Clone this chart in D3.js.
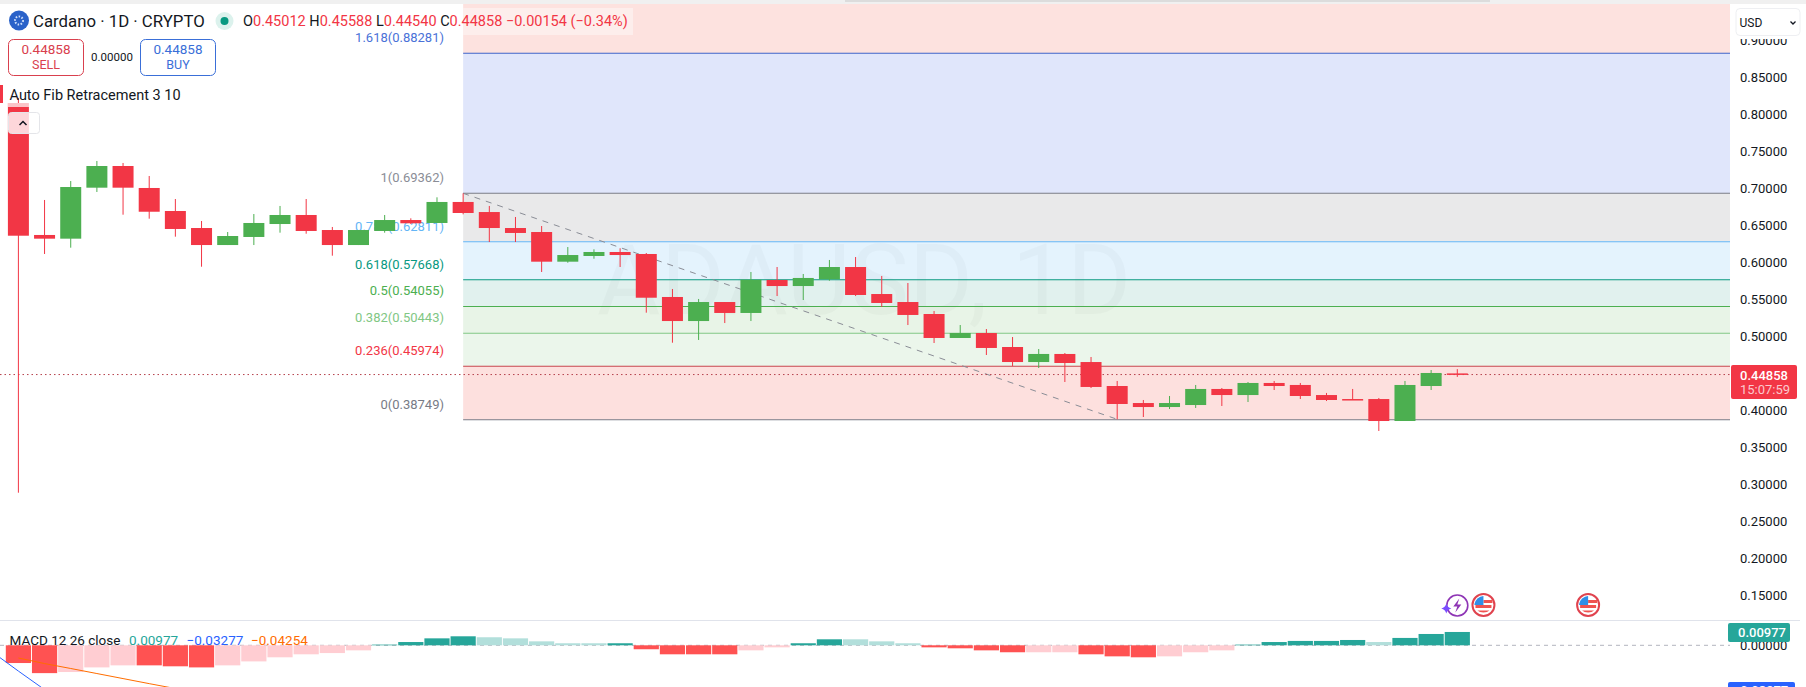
<!DOCTYPE html>
<html>
<head>
<meta charset="utf-8">
<script src="https://cdn.jsdelivr.net/npm/d3@7"></script>
<style>
html, body { margin: 0; padding: 0; background: #fff; overflow: hidden; }
svg { display: block; }
text { font-family: Roboto, sans-serif; }
</style>
</head>
<body>
<script>
// candles, one entry per day
var opens = [.8155,.6372,.6322,.7011,.7304,.7007,.6696,.6466,.6236,.6345,.6520,.6642,.6439,.6236,.6426,.6574,.6534,.6818,.6682,.6466,.6412,.6011,.6088,.6142,.6115,.5534,.5209,.5466,.5318,.5764,.5682,.5773,.5939,.5574,.5466,.5304,.4980,.5047,.4858,.4655,.4764,.4655,.4331,.4101,.4047,.4074,.4291,.4209,.4372,.4345,.4209,.4155,.4155,.3858,.4331,.45012];
var highs = [.8223,.6845,.7101,.7372,.7345,.7169,.6858,.6561,.6412,.6655,.6764,.6858,.6480,.6439,.6642,.6597,.6881,.6935,.6764,.6615,.6493,.6209,.6178,.6192,.6128,.5642,.5507,.5466,.5872,.5939,.5845,.6034,.6074,.5818,.5723,.5345,.5155,.5101,.4993,.4831,.4777,.4723,.4399,.4142,.4196,.4345,.4304,.4385,.4399,.4372,.4237,.4291,.4169,.4399,.4547,.45588];
var lows = [.2889,.6115,.6200,.6953,.6646,.6592,.6349,.5943,.6236,.6236,.6403,.6389,.6092,.6236,.6403,.6520,.6534,.6651,.6277,.6277,.5872,.5997,.6051,.5939,.5322,.4916,.4953,.5182,.5209,.5547,.5493,.5754,.5547,.5399,.5155,.4912,.4980,.4750,.4601,.4574,.4385,.4304,.3881,.3912,.4020,.4034,.4061,.4115,.4277,.4155,.4128,.4142,.3723,.3858,.4277,.4454];
var closes = [.6362,.6322,.7020,.7304,.7011,.6686,.6453,.6236,.6358,.6534,.6642,.6426,.6236,.6439,.6574,.6530,.6818,.6669,.6466,.6399,.6011,.6101,.6142,.6101,.5524,.5209,.5466,.5318,.5768,.5682,.5791,.5939,.5561,.5453,.5291,.4980,.5047,.4845,.4655,.4764,.4642,.4318,.4088,.4047,.4101,.4291,.4209,.4372,.4331,.4196,.4142,.4142,.3858,.4345,.4507,.44858];

// auto fib levels, top to bottom
var fibNames = ["1.618", "1", "0.786", "0.618", "0.5", "0.382", "0.236", "0"];
var fibPrices = [0.88281, 0.69362, 0.62811, 0.57668, 0.54055, 0.50443, 0.45974, 0.38749];
var fibColors = ["#3f63c8", "#787b86", "#64b5f6", "#089981", "#4caf50", "#81c784", "#c8444c", "#787b86"];
var fibTextColors = ["#4a72d8", "#8a8d96", "#64b5f6", "#089981", "#4caf50", "#81c784", "#f23645", "#787b86"];
var fibFills = ["#e0e6fb", "#e9e9ea", "#e4f3fd", "#e1f1ee", "#e8f4e7", "#ebf6eb", "#fde0de"];

var priceTicks = [0.15, 0.20, 0.25, 0.30, 0.35, 0.40, 0.45, 0.50, 0.55, 0.60, 0.65, 0.70, 0.75, 0.80, 0.85, 0.90];
var hiddenTicks = [0.45];

// macd histogram, and whether the bar is falling in strength (pale colour)
var histValues = [-.0130,-.0204,-.0196,-.0162,-.0147,-.0147,-.0154,-.0162,-.0147,-.0118,-.0088,-.0066,-.0057,-.0037,.0005,.0024,.0051,.0066,.0059,.0051,.0029,.0015,.0015,.0015,-.0029,-.0066,-.0066,-.0066,-.0037,-.0015,.0015,.0044,.0044,.0029,.0015,-.0015,-.0022,-.0037,-.0051,-.0051,-.0051,-.0066,-.0081,-.0088,-.0081,-.0051,-.0037,.0005,.0024,.0032,.0032,.0039,.0024,.0054,.0083,.00977];
var histPale = [0,0,1,1,1,0,0,0,1,1,1,1,1,1,0,0,0,0,1,1,1,1,1,0,0,0,0,0,1,1,0,0,1,1,1,0,0,0,0,1,1,0,0,0,1,1,1,0,0,0,0,0,1,0,0,0];
// only the first days of these lines are still inside the pane
var macdValues = [-.0049,-.0189,-.0325];
var signalValues = [-.0093,-.0134,-.0170,-.0207,-.0244,-.0281,-.0317];

var width = 1806, height = 687, axisLeft = 1730;
var red = "#f23645", green = "#4caf50", blue = "#2962ff", teal = "#26a69a";

var x = d3.scaleLinear().domain([0, 55]).range([18.4, 1457.3]);
var y = d3.scaleLinear().domain([0.70, 0.15]).range([188.5, 595.5]);
var yMacd = d3.scaleLinear().domain([0, -0.03277]).range([645.3, 690]);

var fmt = d3.format(".5f");

var svg = d3.select("body").append("svg").attr("width", width).attr("height", height);

svg.append("rect").attr("width", width).attr("height", height).attr("fill", "#fff");

// fib bands
var fibLeft = x(17);
svg.append("rect").attr("x", fibLeft).attr("y", 4).attr("width", axisLeft - fibLeft).attr("height", y(fibPrices[0]) - 4).attr("fill", "#fde2df");
svg.selectAll(".band").data(fibFills).enter().append("rect")
  .attr("x", fibLeft)
  .attr("y", function(d, i) { return y(fibPrices[i]); })
  .attr("width", axisLeft - fibLeft)
  .attr("height", function(d, i) { return y(fibPrices[i + 1]) - y(fibPrices[i]); })
  .attr("fill", function(d) { return d; });

// watermark
svg.append("text").attr("x", 864).attr("y", 314).attr("text-anchor", "middle")
  .attr("font-size", 98).attr("fill", "#000").attr("fill-opacity", 0.025).text("ADAUSD, 1D");
svg.append("text").attr("x", 862).attr("y", 368).attr("text-anchor", "middle")
  .attr("font-size", 36).attr("fill", "#000").attr("fill-opacity", 0.025).text("Cardano");

svg.selectAll(".fibline").data(fibPrices).enter().append("line")
  .attr("x1", fibLeft).attr("x2", axisLeft)
  .attr("y1", function(d) { return y(d); }).attr("y2", function(d) { return y(d); })
  .attr("stroke", function(d, i) { return fibColors[i]; }).attr("stroke-width", 1.1);

svg.selectAll(".fiblabel").data(fibPrices).enter().append("text")
  .attr("x", 444)
  .attr("y", function(d) { return y(d) - 11; })
  .attr("text-anchor", "end").attr("font-size", 13)
  .attr("fill", function(d, i) { return fibTextColors[i]; })
  .text(function(d, i) { return fibNames[i] + "(" + fmt(d) + ")"; });

// diagonal between the two fib anchors
svg.append("line")
  .attr("x1", x(17)).attr("y1", y(highs[17]))
  .attr("x2", x(42)).attr("y2", y(lows[42]))
  .attr("stroke", "#8a8d96").attr("stroke-width", 1).attr("stroke-dasharray", "6,6");

// last price line
svg.append("line").attr("x1", 0).attr("x2", axisLeft)
  .attr("y1", y(closes[55])).attr("y2", y(closes[55]))
  .attr("stroke", "#b5404c").attr("stroke-width", 1).attr("stroke-dasharray", "1.5,3");

// candles
var candle = svg.selectAll(".candle").data(opens).enter().append("g");
function candleColor(i) { return closes[i] >= opens[i] ? green : red; }
candle.append("line")
  .attr("x1", function(d, i) { return x(i); }).attr("x2", function(d, i) { return x(i); })
  .attr("y1", function(d, i) { return y(highs[i]); }).attr("y2", function(d, i) { return y(lows[i]); })
  .attr("stroke", function(d, i) { return candleColor(i); }).attr("stroke-width", 1);
candle.append("rect")
  .attr("x", function(d, i) { return x(i) - 10.5; })
  .attr("width", 21)
  .attr("y", function(d, i) { return y(Math.max(opens[i], closes[i])); })
  .attr("height", function(d, i) { return Math.max(1.5, Math.abs(y(opens[i]) - y(closes[i]))); })
  .attr("fill", function(d, i) { return candleColor(i); });

// price axis
svg.append("rect").attr("x", axisLeft).attr("y", 0).attr("width", width - axisLeft).attr("height", height).attr("fill", "#fff");
var axis = d3.axisRight(y).tickValues(priceTicks).tickSize(0).tickPadding(0).tickFormat(fmt);
var axisG = svg.append("g").attr("transform", "translate(1740,0)").call(axis);
axisG.select(".domain").remove();
axisG.selectAll("text").attr("font-size", 13).attr("font-family", "Roboto, sans-serif").attr("fill", "#131722");
axisG.selectAll(".tick").filter(function(d) { return hiddenTicks.indexOf(d) >= 0; }).remove();

svg.append("rect").attr("x", axisLeft).attr("y", 0).attr("width", width - axisLeft).attr("height", 39).attr("fill", "#fff");
svg.append("rect").attr("x", 1736).attr("y", 8.5).attr("width", 64).attr("height", 27).attr("rx", 4)
  .attr("fill", "#fff").attr("stroke", "#eeeff2");
svg.append("text").attr("x", 1739.5).attr("y", 27).attr("font-size", 12).attr("fill", "#131722").text("USD");
svg.append("path").attr("d", "M1790.5 21.5l2.5 2.5l2.5-2.5").attr("fill", "none").attr("stroke", "#131722").attr("stroke-width", 1.3);

// last price tag
svg.append("rect").attr("x", 1731).attr("y", 365).attr("width", 66).attr("height", 34).attr("rx", 2).attr("fill", red);
svg.append("text").attr("x", 1740).attr("y", 379.5).attr("font-size", 13).attr("font-weight", 500).attr("fill", "#fff").text(fmt(closes[55]));
svg.append("text").attr("x", 1740).attr("y", 394).attr("font-size", 13).attr("fill", "#fbc9ce").text("15:07:59");

// top strip
svg.append("rect").attr("width", width).attr("height", 4).attr("fill", "#f0f0f0");
svg.append("rect").attr("x", 845).attr("width", 645).attr("height", 2).attr("fill", "#dcdcdc");
svg.append("rect").attr("x", 463).attr("y", 8).attr("width", 170).attr("height", 27).attr("fill", "#fdeeec");

// legend
svg.append("circle").attr("cx", 19).attr("cy", 20.5).attr("r", 10).attr("fill", "#2a62c9");
svg.append("circle").attr("cx", 19).attr("cy", 20.5).attr("r", 4).attr("fill", "none").attr("stroke", "#cfe0fb").attr("stroke-width", 2).attr("stroke-dasharray", "1.5,1.5");
svg.append("text").attr("x", 33).attr("y", 27).attr("font-size", 16.8).attr("fill", "#131722").text("Cardano · 1D · CRYPTO");
svg.append("circle").attr("cx", 224.5).attr("cy", 21).attr("r", 9).attr("fill", "#dcf2ed");
svg.append("circle").attr("cx", 224.5).attr("cy", 21).attr("r", 4).attr("fill", "#089981");

var ohlc = svg.append("text").attr("x", 243).attr("y", 26).attr("font-size", 14.5);
[["O", "#131722"], [fmt(opens[55]) + " ", red], ["H", "#131722"], [fmt(highs[55]) + " ", red], ["L", "#131722"], [fmt(lows[55]) + " ", red], ["C", "#131722"], [fmt(closes[55]) + " −0.00154 (−0.34%)", red]].forEach(function(p) {
  ohlc.append("tspan").attr("fill", p[1]).attr("xml:space", "preserve").text(p[0]);
});

function tradeButton(left, w, color, label) {
  svg.append("rect").attr("x", left).attr("y", 39.5).attr("width", w).attr("height", 36).attr("rx", 5)
    .attr("fill", "#fff").attr("stroke", color);
  svg.append("text").attr("x", left + w / 2).attr("y", 54).attr("text-anchor", "middle").attr("font-size", 13.5).attr("fill", color).text(fmt(closes[55]));
  svg.append("text").attr("x", left + w / 2).attr("y", 69).attr("text-anchor", "middle").attr("font-size", 12.5).attr("fill", color).text(label);
}
tradeButton(8.5, 75, "#d9404e", "SELL");
tradeButton(140.5, 75, "#3a6fd8", "BUY");
svg.append("text").attr("x", 112).attr("y", 61).attr("text-anchor", "middle").attr("font-size", 11.5).attr("fill", "#131722").text("0.00000");

svg.append("rect").attr("x", 0).attr("y", 85).attr("width", 3).attr("height", 18).attr("fill", red);
svg.append("text").attr("x", 9.5).attr("y", 99.5).attr("font-size", 14.5).attr("fill", "#131722").text("Auto Fib Retracement 3 10");

svg.append("rect").attr("x", 8).attr("y", 103).attr("width", 21).attr("height", 4).attr("fill", "#fff").attr("fill-opacity", 0.7);
svg.append("rect").attr("x", 8.5).attr("y", 112.5).attr("width", 31).attr("height", 21).attr("rx", 3)
  .attr("fill", "#fff").attr("fill-opacity", 0.8).attr("stroke", "#e4e5e9");
svg.append("path").attr("d", "M19.5 125l3.5-3.5l3.5 3.5").attr("fill", "none").attr("stroke", "#131722").attr("stroke-width", 1.5);

// events under the price pane
function flagIcon(cx) {
  var g = svg.append("g").attr("transform", "translate(" + cx + ",605)");
  g.append("circle").attr("r", 11).attr("fill", "#fff").attr("stroke", "#e0434e").attr("stroke-width", 2);
  g.append("rect").attr("x", -8).attr("y", 0).attr("width", 16).attr("height", 3).attr("fill", "#ef5350");
  g.append("rect").attr("x", 0).attr("y", -5).attr("width", 9).attr("height", 3).attr("fill", "#ef5350");
  g.append("path").attr("d", "M-6 5.5h12a7 4 0 0 1-12 0z").attr("fill", "#ef5350");
  g.append("path").attr("d", "M-9-1a9.5 9.5 0 0 1 9-8v9h-9z").attr("fill", "#2f8fe8");
}
var eventDays = [56, 60];
eventDays.forEach(function(d) { flagIcon(x(d)); });

var bolt = svg.append("g").attr("transform", "translate(" + x(55) + ",605.5)");
bolt.append("circle").attr("r", 10.5).attr("fill", "#fff").attr("stroke", "#8e35b5").attr("stroke-width", 1.6);
bolt.append("path").attr("d", "M2-7l-6 8h4l-2 6l6-8h-4z").attr("fill", "#8e35b5");
bolt.append("path").attr("d", "M-11-2q1 4 5 5q-4 1-5 5q-1-4-5-5q4-1 5-5z").attr("fill", "#7a4dff");

// macd pane
svg.append("line").attr("x1", 0).attr("x2", 1800).attr("y1", 620.5).attr("y2", 620.5).attr("stroke", "#e0e3eb");
svg.append("line").attr("x1", 0).attr("x2", axisLeft).attr("y1", yMacd(0)).attr("y2", yMacd(0))
  .attr("stroke", "#b2b5be").attr("stroke-dasharray", "4,4");

svg.selectAll(".hist").data(histValues).enter().append("rect")
  .attr("x", function(d, i) { return x(i) - 12.6; })
  .attr("width", 25.2)
  .attr("y", function(d) { return Math.min(yMacd(d), yMacd(0)); })
  .attr("height", function(d) { return Math.abs(yMacd(d) - yMacd(0)); })
  .attr("fill", function(d, i) {
    if (d >= 0) return histPale[i] ? "#b2dfdb" : teal;
    return histPale[i] ? "#ffcdd2" : "#ff5252";
  });

// macd starts one day left of the first candle, off the page edge
var macdLine = d3.line().x(function(d, i) { return x(i - 1); }).y(function(d) { return yMacd(d); });
var signalLine = d3.line().x(function(d, i) { return x(i); }).y(function(d) { return yMacd(d); });
svg.append("path").attr("d", macdLine(macdValues)).attr("fill", "none").attr("stroke", blue).attr("stroke-width", 1);
svg.append("path").attr("d", signalLine(signalValues)).attr("fill", "none").attr("stroke", "#ff6d00").attr("stroke-width", 1);

var macdLegend = svg.append("text").attr("y", 645).attr("font-size", 13.5);
macdLegend.append("tspan").attr("x", 9.5).attr("fill", "#131722").text("MACD 12 26 close");
macdLegend.append("tspan").attr("x", 129).attr("fill", teal).text("0.00977");
macdLegend.append("tspan").attr("x", 186.5).attr("fill", blue).text("−0.03277");
macdLegend.append("tspan").attr("x", 251).attr("fill", "#ff6d00").text("−0.04254");

var macdAxis = d3.axisRight(yMacd).tickValues([0]).tickSize(0).tickPadding(0).tickFormat(fmt);
var macdAxisG = svg.append("g").attr("transform", "translate(1740,0)").call(macdAxis);
macdAxisG.select(".domain").remove();
macdAxisG.selectAll("text").attr("font-size", 13).attr("font-family", "Roboto, sans-serif").attr("fill", "#131722");

svg.append("rect").attr("x", 1728).attr("y", 623).attr("width", 62).attr("height", 19).attr("rx", 2).attr("fill", teal);
svg.append("text").attr("x", 1738).attr("y", 637).attr("font-size", 13).attr("font-weight", 500).attr("fill", "#fff").text("0.00977");
svg.append("rect").attr("x", 1728).attr("y", 682).attr("width", 67).attr("height", 19).attr("rx", 2).attr("fill", blue);
svg.append("text").attr("x", 1733).attr("y", 695).attr("font-size", 13).attr("font-weight", 500).attr("fill", "#fff").text("−0.03277");
</script>
</body>
</html>
